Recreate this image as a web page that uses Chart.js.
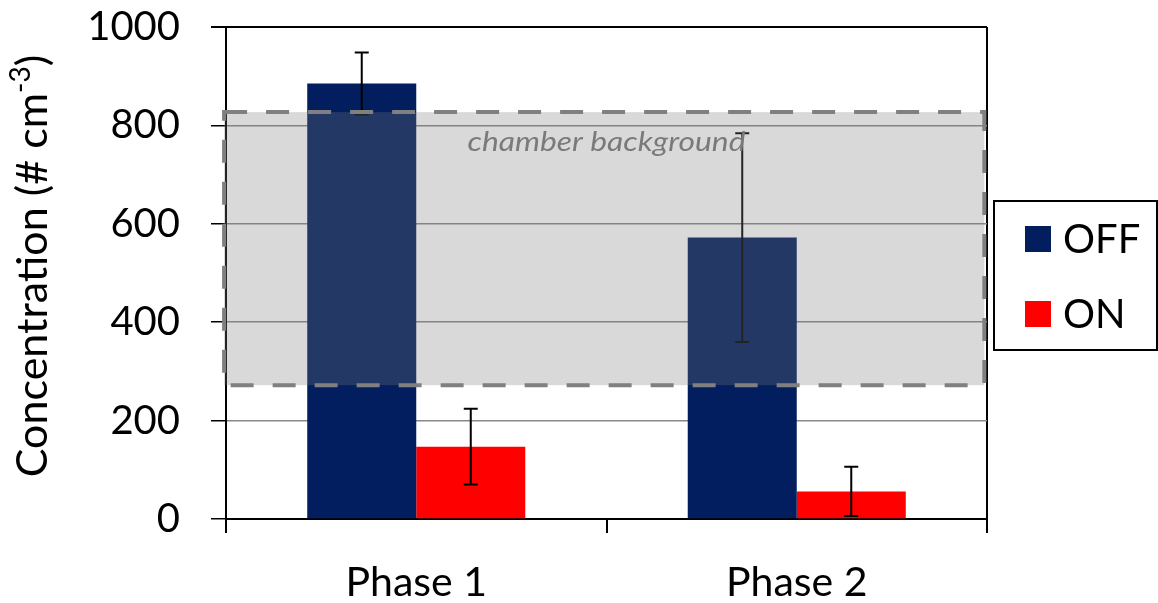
<!DOCTYPE html>
<html lang="en">
<head>
<meta charset="UTF-8">
<title>Concentration by phase</title>
<script src="https://cdn.jsdelivr.net/npm/chart.js"></script>
<style>
  html, body { margin: 0; padding: 0; background: #fff; }
  #wrap { width: 1158px; height: 603px; }
</style>
</head>
<body>
<div id="wrap"><canvas id="chart"></canvas></div>
<script>
const phases = ['Phase 1', 'Phase 2'];
const seriesNames = ['OFF', 'ON'];
const offValues = [885, 572];
const onValues = [147, 56];
const offErrors = [63, 212];
const onErrors = [77, 50];
const yMin = 0, yMax = 1000, yStep = 200;

// shaded "chamber background" band, in data units
const bandX = [-0.505, 1.493];
const bandY = [272, 827];
const bandText = 'chamber background';
const bandTextAt = [0.5, 748];

const FONT = 'Lato, "Open Sans", sans-serif';

const errorBars = {
  id: 'errorBars',
  afterDatasetsDraw(chart) {
    const ctx = chart.ctx, y = chart.scales.y;
    const errs = [offErrors, onErrors];
    ctx.save();
    ctx.strokeStyle = '#000';
    ctx.lineWidth = 2;
    chart.data.datasets.forEach((ds, i) => {
      chart.getDatasetMeta(i).data.forEach((bar, j) => {
        const v = ds.data[j], e = errs[i][j];
        const top = y.getPixelForValue(v + e), bot = y.getPixelForValue(v - e);
        ctx.beginPath();
        ctx.moveTo(bar.x, top); ctx.lineTo(bar.x, bot);
        ctx.moveTo(bar.x - 7, top); ctx.lineTo(bar.x + 7, top);
        ctx.moveTo(bar.x - 7, bot); ctx.lineTo(bar.x + 7, bot);
        ctx.stroke();
      });
    });
    ctx.restore();
  }
};

const band = {
  id: 'band',
  afterDatasetsDraw(chart) {
    const ctx = chart.ctx, x = chart.scales.x, y = chart.scales.y;
    const l = x.getPixelForValue(bandX[0]), r = x.getPixelForValue(bandX[1]);
    const t = y.getPixelForValue(bandY[1]), b = y.getPixelForValue(bandY[0]);
    ctx.save();
    ctx.fillStyle = 'rgba(121,121,121,0.285)';
    ctx.fillRect(l, t, r - l, b - t);
    ctx.setLineDash([23, 19]);
    ctx.strokeStyle = '#808080';
    ctx.lineWidth = 4;
    ctx.strokeRect(l, t, r - l, b - t);
    ctx.setLineDash([]);
    // label, stretched a little like the original
    ctx.font = 'italic 27px ' + FONT;
    ctx.fillStyle = '#7a7a7a';
    ctx.textAlign = 'center';
    ctx.textBaseline = 'alphabetic';
    const cx = x.getPixelForValue(bandTextAt[0]), cy = y.getPixelForValue(bandTextAt[1]);
    const sx = 278 / ctx.measureText(bandText).width;
    ctx.translate(cx, cy);
    ctx.scale(sx, 1);
    ctx.fillText(bandText, 0, 0);
    ctx.restore();
  }
};

const boxLegend = {
  id: 'boxLegend',
  afterDraw(chart) {
    const ctx = chart.ctx, area = chart.chartArea;
    const left = area.right + 7, top = 201, w = 163, h = 149;
    ctx.save();
    ctx.strokeStyle = '#000';
    ctx.lineWidth = 2;
    ctx.strokeRect(left, top, w, h);
    ctx.font = '40px ' + FONT;
    ctx.textBaseline = 'middle';
    ctx.textAlign = 'left';
    chart.data.datasets.forEach((ds, i) => {
      const cy = top + 38 + i * 75;
      ctx.fillStyle = ds.backgroundColor;
      ctx.fillRect(left + 31, cy - 13, 26, 26);
      ctx.fillStyle = '#000';
      ctx.fillText(ds.label, left + 69, cy + 1);
    });
    ctx.restore();
  }
};

const yTitle = {
  id: 'yTitle',
  afterDraw(chart) {
    const ctx = chart.ctx, area = chart.chartArea;
    const main = 'Concentration (# cm', sup = '-3', tail = ')';
    ctx.save();
    ctx.translate(33, (area.top + area.bottom) / 2 - 7);
    ctx.rotate(-Math.PI / 2);
    ctx.fillStyle = '#000';
    ctx.textBaseline = 'middle';
    ctx.textAlign = 'left';
    ctx.font = '43px ' + FONT;
    const wMain = ctx.measureText(main).width, wTail = ctx.measureText(tail).width;
    ctx.font = '28px ' + FONT;
    const wSup = ctx.measureText(sup).width;
    let x0 = -(wMain + wSup + wTail) / 2;
    ctx.font = '43px ' + FONT;
    ctx.fillText(main, x0, 0);
    ctx.font = '28px ' + FONT;
    ctx.fillText(sup, x0 + wMain, -12);
    ctx.font = '43px ' + FONT;
    ctx.fillText(tail, x0 + wMain + wSup, 0);
    ctx.restore();
  }
};

new Chart(document.getElementById('chart'), {
  type: 'bar',
  data: {
    labels: phases,
    datasets: [
      { label: seriesNames[0], data: offValues, backgroundColor: '#021e5e' },
      { label: seriesNames[1], data: onValues, backgroundColor: '#ff0000' }
    ]
  },
  options: {
    responsive: true,
    maintainAspectRatio: false,
    animation: false,
    categoryPercentage: 0.573,
    barPercentage: 1,
    layout: { padding: { left: 0, right: 171, top: 27, bottom: 0 } },
    plugins: { legend: { display: false }, tooltip: { enabled: false } },
    scales: {
      x: {
        afterFit(s) { s.height = 84; s.paddingLeft = 0; s.paddingRight = 0; },
        grid: {
          offset: true,
          color: c => c.index === undefined ? '#000' : 'rgba(0,0,0,0)',
          tickColor: '#000',
          lineWidth: 2,
          tickLength: 14
        },
        border: { color: '#000', width: 2 },
        ticks: { color: '#000', padding: 25, font: { family: FONT, size: 41 } }
      },
      y: {
        min: yMin,
        max: yMax,
        afterFit(s) { s.width = 226; s.paddingTop = 0; s.paddingBottom = 0; },
        grid: {
          color: c => c.tick && c.tick.value === yMax ? '#000' : '#888',
          lineWidth: c => c.tick && c.tick.value === yMax ? 2 : 1.5,
          tickColor: '#000',
          tickLength: 15
        },
        border: { color: '#000', width: 2 },
        ticks: {
          stepSize: yStep,
          color: '#000',
          padding: 31,
          font: { family: FONT, size: 40 },
          callback: v => String(v)
        }
      }
    }
  },
  plugins: [errorBars, band, boxLegend, yTitle]
});
</script>
</body>
</html>
